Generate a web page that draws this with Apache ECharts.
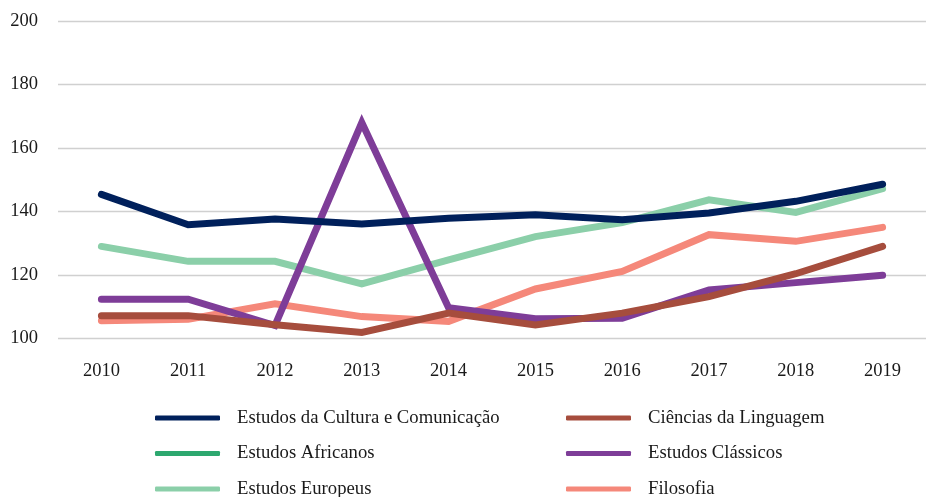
<!DOCTYPE html>
<html>
<head>
<meta charset="utf-8">
<script src="https://cdn.jsdelivr.net/npm/echarts@6/dist/echarts.min.js"></script>
<style>
  html, body { margin: 0; padding: 0; background: #fff; }
  #chart { width: 926px; height: 497px; }
</style>
</head>
<body>
<div id="chart"></div>
<script>
// categorias e valores
var years = ["2010", "2011", "2012", "2013", "2014", "2015", "2016", "2017", "2018", "2019"];
var yTicks = [100, 120, 140, 160, 180, 200];

var cultura = [145.4, 135.8, 137.6, 136.1, 137.9, 139.0, 137.4, 139.5, 143.2, 148.6];
var linguagem = [107.2, 107.2, 104.3, 101.9, 108.0, 104.3, 108.0, 113.2, 120.4, 129.0];
var africanos = [null, null, null, null, null, null, null, null, null, null];
var classicos = [112.4, 112.4, 104.1, 168.0, 109.7, 106.2, 106.4, 115.3, 117.6, 119.9];
var europeus = [129.0, 124.3, 124.3, 117.2, 124.8, 132.1, 136.5, 143.7, 139.7, 147.2];
var filosofia = [105.6, 106.1, 110.9, 106.9, 105.4, 115.6, 121.1, 132.7, 130.6, 135.0];

var names = [
  "Estudos da Cultura e Comunicação",
  "Ciências da Linguagem",
  "Estudos Africanos",
  "Estudos Clássicos",
  "Estudos Europeus",
  "Filosofia"
];
var colors = ["#00205B", "#A64D3D", "#2DA86F", "#7E3D98", "#8BCFA9", "#F5887A"];
var values = [cultura, linguagem, africanos, classicos, europeus, filosofia];

var serif = "'Liberation Serif', 'Times New Roman', serif";

function makeSeries(i) {
  return {
    name: names[i],
    type: "line",
    data: values[i],
    color: colors[i],
    showSymbol: false,
    symbol: "none",
    lineStyle: { width: 7, cap: "round", join: "miter" },
    z: 10 - i
  };
}

// uma legenda por item, em duas colunas
function makeLegend(i) {
  var col = i % 2, row = Math.floor(i / 2);
  return {
    left: col === 0 ? 155 : 566,
    top: 407 + row * 35.5,
    padding: 0,
    itemWidth: 65,
    itemHeight: 5,
    icon: "roundRect",
    data: [names[i]],
    textStyle: {
      fontFamily: serif,
      fontSize: 18.7,
      color: "#1a1a1a",
      lineHeight: 22,
      padding: [0, 0, 0, 12]
    }
  };
}

var chart = echarts.init(document.getElementById("chart"));
var option = {
  animation: false,
  backgroundColor: "#fff",
  grid: {
    left: 58,
    right: 0,
    top: 21,
    height: 317.5,
    outerBoundsMode: "none"
  },
  legend: [0, 1, 2, 3, 4, 5].map(makeLegend),
  xAxis: {
    type: "category",
    data: years,
    boundaryGap: true,
    axisLine: { show: false },
    axisTick: { show: false },
    axisLabel: {
      margin: 23,
      fontFamily: serif,
      fontSize: 18.5,
      color: "#1a1a1a"
    }
  },
  yAxis: {
    type: "value",
    min: yTicks[0],
    max: yTicks[yTicks.length - 1],
    interval: 20,
    axisLine: { show: false },
    axisTick: { show: false },
    axisLabel: {
      margin: 20,
      fontFamily: serif,
      fontSize: 18.5,
      color: "#1a1a1a"
    },
    splitLine: { lineStyle: { color: "#d0d0d0", width: 1.3 } }
  },
  series: [0, 1, 2, 3, 4, 5].map(makeSeries)
};
chart.setOption(option);
</script>
</body>
</html>
